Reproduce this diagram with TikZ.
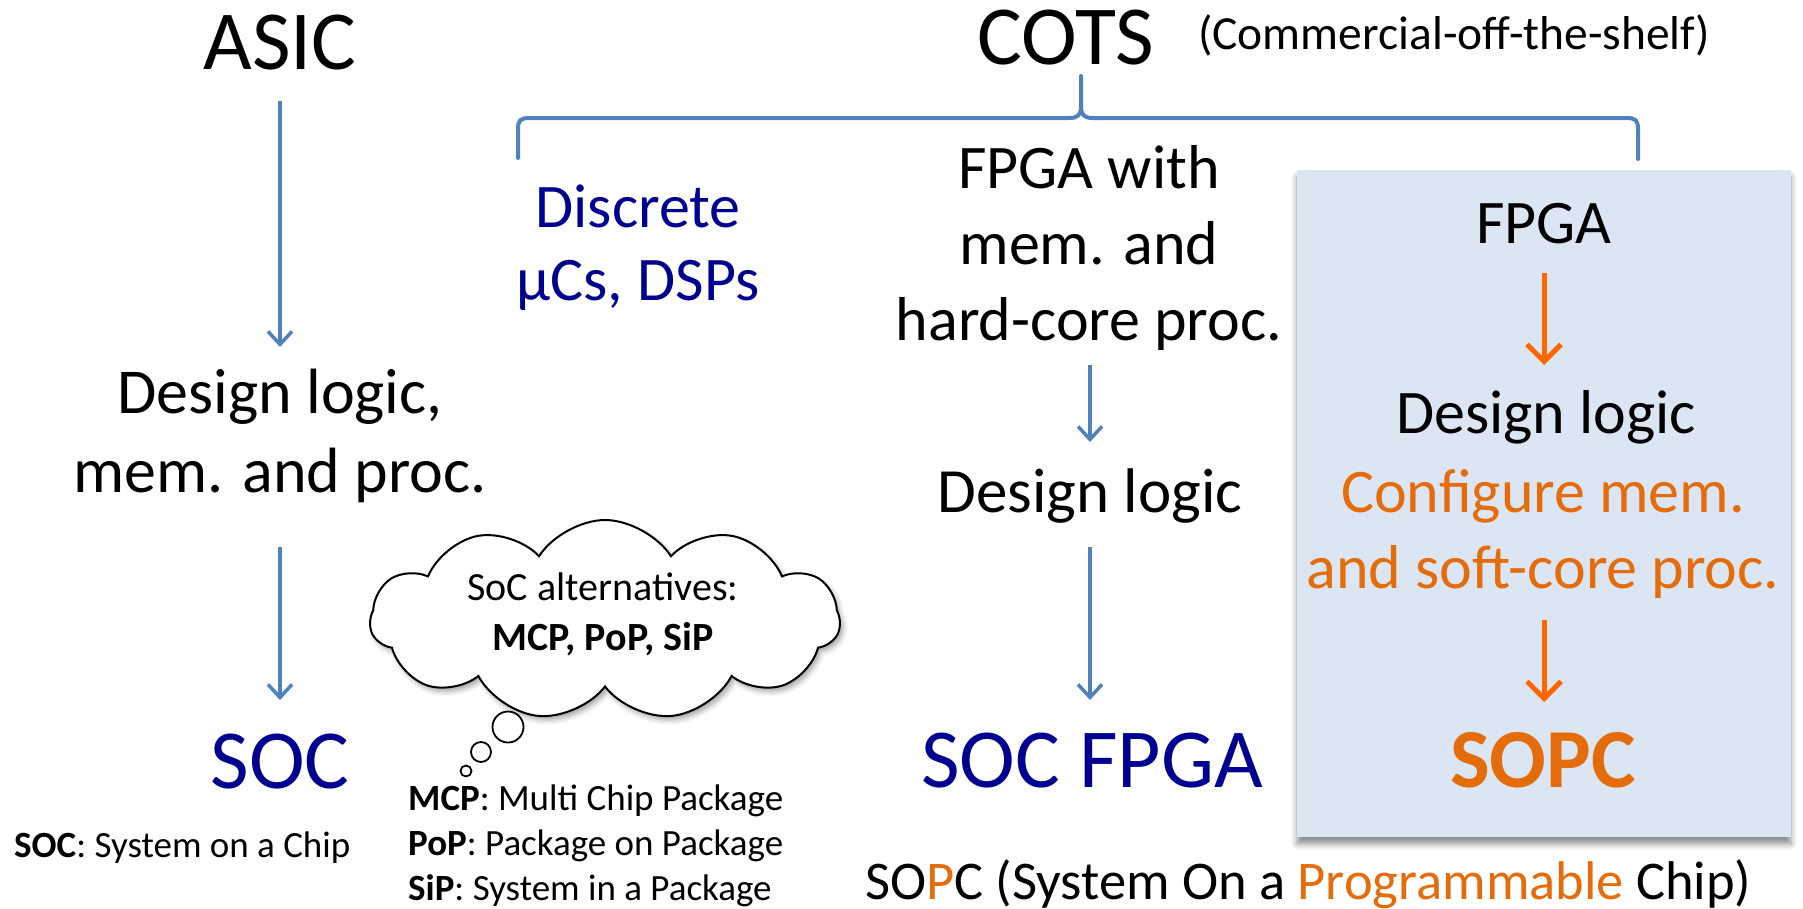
\documentclass[tikz,border=0pt]{standalone}
\usepackage{fontspec}
\setmainfont{Carlito}
\usetikzlibrary{arrows.meta,shapes.symbols,shadows.blur}
\definecolor{bluearr}{HTML}{4F81BD}
\definecolor{orangearr}{HTML}{FF6600}
\definecolor{orangetxt}{HTML}{E46C0A}
\definecolor{navytxt}{HTML}{000090}
\definecolor{boxfill}{HTML}{DCE6F2}
\newcommand{\fsz}[2]{\fontsize{#1}{#2}\selectfont}
\tikzset{
  txt/.style={inner sep=0pt, anchor=base, align=center},
  huge/.style={txt, font=\fsz{84}{100}},
  big/.style={txt, font=\fsz{63}{77}},
  barr/.style={draw=bluearr, line width=3.5pt, -{Straight Barb[length=13pt,width=24pt]}},
  oarr/.style={draw=orangearr, line width=5pt, -{Straight Barb[length=17pt,width=34pt]}},
  bubble/.style={circle, draw=black, line width=1.8pt, fill=white, inner sep=0pt},
}
\begin{document}
\begin{tikzpicture}[x=1pt,y=-1pt]
\useasboundingbox (0,0) rectangle (1803,908);
% shaded box
\fill[boxfill, blur shadow={shadow xshift=0pt, shadow yshift=-7pt, shadow blur radius=6pt, shadow opacity=45}] (1297,170) rectangle (1791,837);
% brace
\draw[bluearr, line width=4pt, line cap=round, line join=round]
  (518,158) -- (518,130) .. controls (518,120) and (520,118) .. (530,118) -- (1069,118)
  .. controls (1078,118) and (1081,115) .. (1081,106) -- (1081,76);
\draw[bluearr, line width=4pt, line cap=round, line join=round]
  (1081,106) .. controls (1081,115) and (1084,118) .. (1093,118) -- (1626,118)
  .. controls (1636,118) and (1638,120) .. (1638,130) -- (1638,159);
% titles
\node[huge] (asic) at (280,69) {ASIC};
\node[huge] (cots) at (1066,64) {COTS};
\node[txt, anchor=base west, font=\fsz{47.5}{57}] (comm) at (1198,49) {(Commercial-off-the-shelf)};
% left column
\node[big, font=\fsz{64}{79}] (dl) at (280,492) {Design logic,\\mem. and proc.};
\node[huge, text=navytxt] (soc) at (280,788) {SOC};
\node[txt, anchor=base west, font=\fsz{37}{45}] (socdef) at (14,857) {\textbf{SOC}: System on a Chip};
\draw[barr] (0,101 -| asic) -- (0,347 -| dl);
\draw[barr] (0,547 -| dl) -- (0,700 -| soc);
% cloud
\node[cloud, draw=black, line width=2pt, fill=white, cloud puffs=11, cloud puff arc=115, aspect=2.6,
      minimum width=470pt, minimum height=200pt, inner sep=0pt,
      blur shadow={shadow xshift=3pt, shadow yshift=-4pt, shadow blur radius=5pt, shadow opacity=35}]
      (cloud) at (605,620) {};
\node[txt, anchor=center, font=\fsz{40}{50}] (cloudtxt) at (603,614) {SoC alternatives:\\\textbf{MCP, PoP, SiP}};
\node[bubble, minimum size=31pt] (b1) at (508,727) {};
\node[bubble, minimum size=20pt] (b2) at (481,752) {};
\node[bubble, minimum size=11pt] (b3) at (466,771) {};
\node[txt, anchor=base west, align=left, font=\fsz{37}{45}] (mcp) at (408,900)
  {\textbf{MCP}: Multi Chip Package\\\textbf{PoP}: Package on Package\\\textbf{SiP}: System in a Package};
% discrete
\node[big, text=navytxt, font=\fsz{62}{73}] (disc) at (638,300) {Discrete\\µCs, DSPs};
% middle column
\node[big, font=\fsz{62}{76}] (fwith) at (1089,340) {FPGA with\\mem. and\\hard-core proc.};
\node[big] (dlmid) at (1090,512) {Design logic};
\node[huge, text=navytxt] (socfpga) at (1092,787) {SOC FPGA};
\draw[barr] (0,365 -| dlmid) -- (0,442 -| dlmid);
\draw[barr] (0,547 -| dlmid) -- (0,700 -| dlmid);
% right column
\node[big, font=\fsz{62}{76}] (fpga) at (1544,243) {FPGA};
\node[big, font=\fsz{62}{76}] (dlr) at (1546,433) {Design logic};
\node[big, text=orangetxt, font=\fsz{62}{76}] (conf) at (1543,588) {Configure mem.\\and soft-core proc.};
\node[huge, text=orangetxt, font=\fsz{84}{100}\bfseries] (sopc) at (1543,787) {SOPC};
\draw[oarr] (0,273 -| fpga) -- (0,365 -| fpga);
\draw[oarr] (0,620 -| fpga) -- (0,702 -| fpga);
% bottom
\node[txt, anchor=base west, font=\fsz{54.5}{64}] (bottom) at (865,899)
  {SO\textcolor{orangetxt}{P}C (System On a \textcolor{orangetxt}{Programmable} Chip)};
\end{tikzpicture}
\end{document}
